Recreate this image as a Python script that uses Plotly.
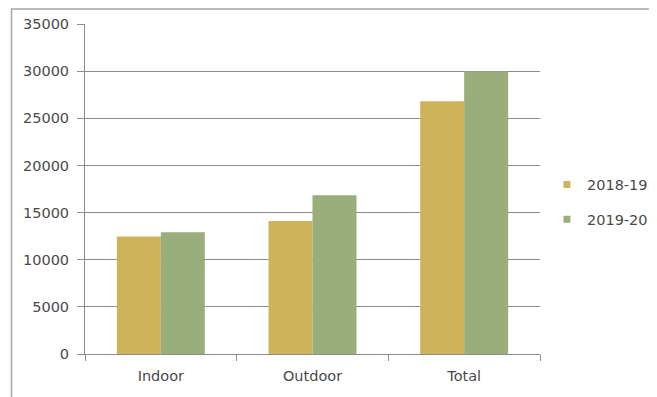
import plotly.graph_objects as go

# Kategorien und Werte
categories = ["Indoor", "Outdoor", "Total"]
values_2018_19 = [12450, 14100, 26800]
values_2019_20 = [12900, 16850, 29950]
series_names = ["2018-19", "2019-20"]
colors = ["#CDB45C", "#9AAE7B"]

fig = go.Figure()
for name, vals, col in zip(series_names, [values_2018_19, values_2019_20], colors):
    fig.add_trace(go.Bar(x=categories, y=vals, name=name, marker_color=col,
                         marker_line_width=0, showlegend=False))
    # kleine quadratische Legendensymbole wie im Original
    fig.add_trace(go.Scatter(x=[None], y=[None], mode="markers", name=name,
                             marker=dict(symbol="square", size=7, color=col),
                             legendgroup=name))

# Die Seite hat 8px Body-Rand -> Seitenkoordinaten um OFF verschieben
OFF = 8
W, H = 657, 397
L, R, T, B = 85 - OFF, 543 - OFF, 24 - OFF, 354 - OFF

def px_x(p):
    return (p - OFF - L) / (R - L)

def px_y(p):
    return (B - (p - OFF)) / (B - T)

FS = 14.5
fig.update_layout(
    width=W, height=H,
    margin=dict(l=L, r=W - R, t=T, b=H - B),
    paper_bgcolor="white", plot_bgcolor="white",
    bargap=0.42, bargroupgap=0,
    font=dict(family="DejaVu Sans", size=FS, color="#4A4A4A"),
    showlegend=True,
    legend=dict(x=px_x(550), y=px_y(202), xanchor="left", yanchor="middle",
                tracegroupgap=13, itemwidth=30,
                font=dict(size=FS, color="#4A4A4A")),
    shapes=[dict(type="rect", xref="paper", yref="paper",
                 x0=px_x(11), x1=px_x(720), y0=px_y(440), y1=px_y(9),
                 line=dict(color="#A6A6A6", width=1.5), fillcolor="rgba(0,0,0,0)",
                 layer="below")],
)

fig.update_yaxes(range=[0, 35000], dtick=5000, tickformat="d", showgrid=True,
                 gridcolor="#8C8C8C", gridwidth=1, showline=True, linecolor="#8C8C8C",
                 linewidth=1, ticks="outside", ticklen=7, tickcolor="#8C8C8C",
                 ticklabelstandoff=5, automargin=False, zeroline=False,
                 tickfont=dict(size=FS, color="#4A4A4A"))
fig.update_xaxes(showline=True, linecolor="#8C8C8C", linewidth=1, ticks="outside",
                 tickson="boundaries", ticklen=6, tickcolor="#8C8C8C",
                 ticklabelstandoff=9, automargin=False,
                 tickfont=dict(size=FS, color="#4A4A4A"))

fig.write_html("out.html")
